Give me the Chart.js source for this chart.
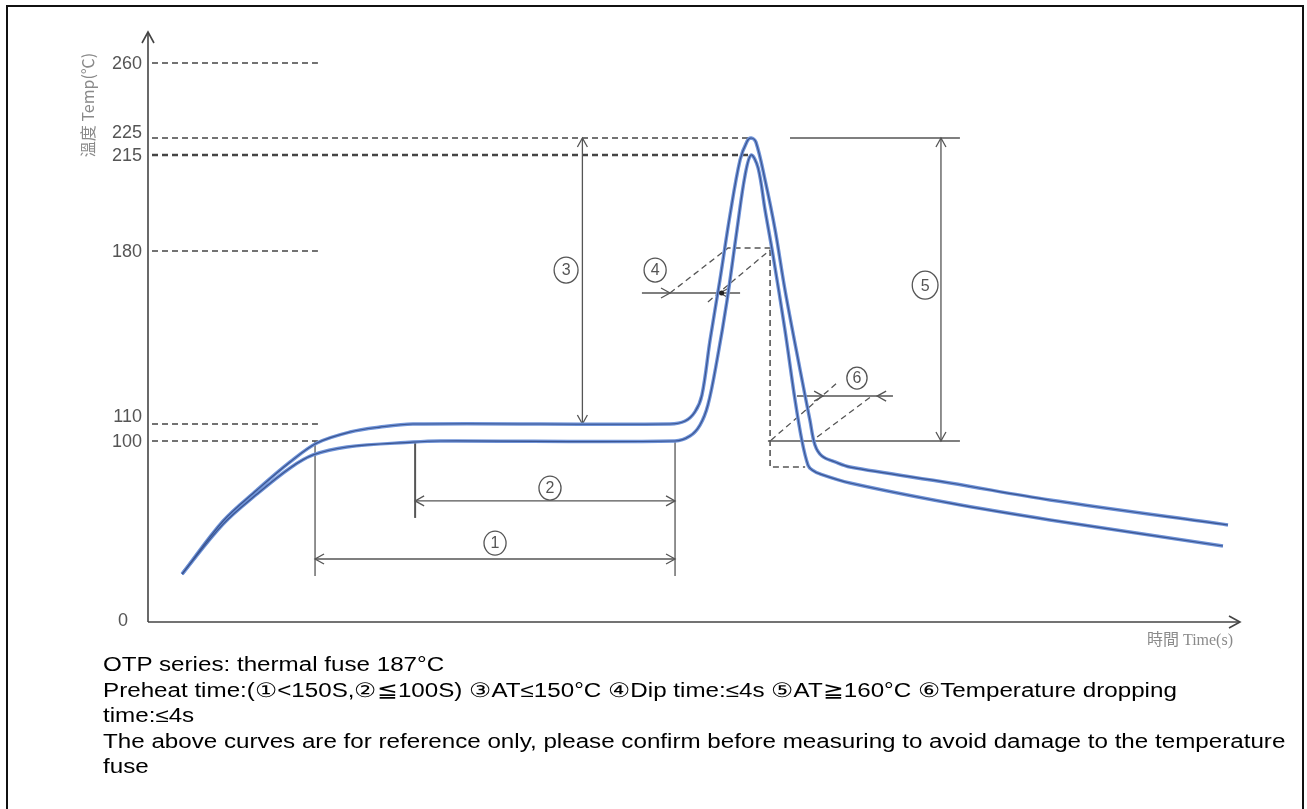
<!DOCTYPE html>
<html>
<head>
<meta charset="utf-8">
<script src="https://cdn.jsdelivr.net/npm/chart.js@4.4.0/dist/chart.umd.min.js"></script>
<style>
html, body { margin: 0; padding: 0; background: #fff; }
#wrap { position: relative; width: 1307px; height: 809px; overflow: hidden; }
#frame { position: absolute; left: 6px; top: 5px; width: 1298px; height: 830px; border: 2px solid #111; box-sizing: border-box; }
#chart { position: absolute; left: 0; top: 0; }
#notes { position: absolute; left: 103px; top: 652px; font-family: "Liberation Sans", Arial, sans-serif;
         font-size: 19.5px; line-height: 25.5px; color: #000; white-space: nowrap;
         transform: scaleX(1.24); transform-origin: 0 0; }
</style>
</head>
<body>
<div id="wrap">
  <canvas id="chart" width="1307" height="809"></canvas>
  <div id="frame"></div>
  <div id="notes">
    OTP series: thermal fuse 187°C<br>
    Preheat time:(①&lt;150S,②≦100S) ③AT≤150°C ④Dip time:≤4s ⑤AT≧160°C ⑥Temperature dropping<br>
    time:≤4s<br>
    The above curves are for reference only, please confirm before measuring to avoid damage to the temperature<br>
    fuse
  </div>
</div>
<script>
// temperature ticks on the y axis; the figure is a sketch, the ticks are not evenly spaced
const tempTicks = [0, 100, 110, 180, 215, 225, 260];
const tickLevel = [0, 181, 198, 371, 467, 484, 559];
// how far each dashed guide runs to the right (time units)
const guideEnd = [null, 70.8, 70.8, 70.8, 250, 251.7, 70.8];

// upper profile: 110°C soak, 225°C peak
const timeA = [14.2, 31.3, 45.4, 59.2, 70.4, 84.2, 96.7, 110.4, 217.5, 223.8, 227.9, 230.8, 234.2, 238.3,
               242.5, 246.7, 249.6, 251.3, 253.3, 257.1, 261.3, 265.4, 271.7, 275.8, 277.9, 280.8, 286.3, 292.5,
               334.2, 375.8, 450];
const tempA = [26.5, 55.8, 72.9, 88.4, 98.9, 105.3, 108.2, 110, 110, 111.2, 114.9, 121.7, 144, 168.3,
               193.1, 213.2, 223, 225, 222.6, 205.9, 187.7, 164.3, 131.9, 111.6, 97.8, 91.7, 88.4, 85.6,
               76.8, 67.4, 53.6];
// lower profile: 100°C soak, 215°C peak
const timeB = [14.2, 31.3, 45.4, 59.2, 68.8, 82.9, 110.4, 121.7, 219.6, 225.8, 230, 233.3, 237.1, 241.3,
               245.4, 248.8, 251.3, 254.2, 257.1, 260.4, 265.4, 269.6, 272.5, 275, 276.7, 280, 292.5, 334.2,
               375.8, 447.9];
const tempB = [26.5, 54.1, 70.7, 85.1, 92.3, 96.7, 99.4, 100, 100, 102.9, 109.4, 117.7, 135.9, 160.2,
               187.7, 207.7, 215, 210.3, 195, 178.4, 148, 119.7, 100, 86.7, 84, 81.8, 76.8, 65.7,
               56.4, 42];

// temperature -> position on the sketch axis (piecewise between ticks)
function lv(T) {
    for (let i = 1; i < tempTicks.length; i++) {
        if (T <= tempTicks[i] || i === tempTicks.length - 1) {
            const f = (T - tempTicks[i - 1]) / (tempTicks[i] - tempTicks[i - 1]);
            return tickLevel[i - 1] + f * (tickLevel[i] - tickLevel[i - 1]);
        }
    }
}

const ptsA = timeA.map((t, i) => ({x: t, y: lv(tempA[i])}));
const ptsB = timeB.map((t, i) => ({x: t, y: lv(tempB[i])}));

function line(ctx, pts, dash, w) {
    ctx.save();
    ctx.setLineDash(dash || []);
    ctx.lineWidth = w || 1.3;
    ctx.beginPath();
    pts.forEach((p, i) => i ? ctx.lineTo(p[0], p[1]) : ctx.moveTo(p[0], p[1]));
    ctx.stroke();
    ctx.restore();
}

// open chevron arrowhead, dir = angle the arrow points to
function head(ctx, px, py, dir, len, wid) {
    len = len || 9; wid = wid || 5;
    const c = Math.cos(dir), s = Math.sin(dir);
    ctx.beginPath();
    ctx.moveTo(px - len * c - wid * s, py - len * s + wid * c);
    ctx.lineTo(px, py);
    ctx.lineTo(px - len * c + wid * s, py - len * s - wid * c);
    ctx.stroke();
}

function circled(ctx, px, py, txt, r) {
    r = r || 12;
    ctx.save();
    ctx.lineWidth = 1.3;
    ctx.beginPath();
    ctx.ellipse(px, py, r * 0.92, r, 0, 0, Math.PI * 2);
    ctx.stroke();
    ctx.fillStyle = '#555';
    ctx.font = '16px "Liberation Sans", Arial, sans-serif';
    ctx.textAlign = 'center';
    ctx.textBaseline = 'middle';
    ctx.fillText(txt, px, py + 1);
    ctx.restore();
}

const sketch = {
    id: 'sketch',
    beforeDatasetsDraw(chart) {
        const {ctx, scales: {x, y}} = chart;
        const X = t => x.getPixelForValue(t);
        const Y = T => y.getPixelForValue(lv(T));
        const x0 = X(0), y0 = Y(0);
        ctx.save();
        ctx.strokeStyle = '#444';
        ctx.lineWidth = 1.6;

        // axes with arrows
        line(ctx, [[x0, y0], [x0, y.top - 3]], null, 1.6);
        head(ctx, x0, y.top - 3, -Math.PI / 2, 11, 6);
        line(ctx, [[x0, y0], [x.right, y0]], null, 1.6);
        head(ctx, x.right, y0, 0, 11, 6);

        // tick labels + dashed guides
        ctx.font = '18px "Liberation Sans", Arial, sans-serif';
        ctx.fillStyle = '#555';
        ctx.textAlign = 'right';
        ctx.textBaseline = 'middle';
        const nudge = {110: -8, 225: -6};
        tempTicks.forEach((T, i) => {
            const py = Y(T);
            ctx.fillText(String(T), x0 - (T === 0 ? 20 : 6), py + (nudge[T] || 0) + (T === 0 ? -1 : 1));
            if (guideEnd[i] != null) {
                line(ctx, [[x0 + 4, py], [X(guideEnd[i]), py]], [6, 4], T === 215 ? 2.4 : 1.6);
            }
        });

        // axis titles
        ctx.save();
        ctx.translate(88, 105);
        ctx.rotate(-Math.PI / 2);
        ctx.fillStyle = '#8a8a8a';
        ctx.textAlign = 'center';
        ctx.font = '16px "Noto Sans CJK TC", "Liberation Sans", sans-serif';
        ctx.fillText('溫度 Temp(℃)', 0, 0);
        ctx.restore();
        ctx.fillStyle = '#8a8a8a';
        ctx.textAlign = 'right';
        ctx.font = '16px "Liberation Serif", "Noto Sans CJK TC", serif';
        ctx.fillText('時間 Time(s)', 1233, 641);

        ctx.lineWidth = 1.3;
        ctx.strokeStyle = '#555';
        // (1) preheat span
        line(ctx, [[X(69.6), Y(100)], [X(69.6), Y(25.4)]]);
        line(ctx, [[X(219.6), Y(100)], [X(219.6), Y(25.4)]]);
        line(ctx, [[X(69.6), Y(34.8)], [X(219.6), Y(34.8)]]);
        head(ctx, X(69.6), Y(34.8), Math.PI);
        head(ctx, X(219.6), Y(34.8), 0);
        circled(ctx, X(144.6), Y(43.6), '1');
        // (2) soak span
        line(ctx, [[X(111.3), Y(100)], [X(111.3), Y(57.5)]], null, 2);
        line(ctx, [[X(111.3), Y(66.9)], [X(219.6), Y(66.9)]]);
        head(ctx, X(111.3), Y(66.9), Math.PI);
        head(ctx, X(219.6), Y(66.9), 0);
        circled(ctx, X(167.5), Y(74), '2');
        // (3) rise from soak to peak
        line(ctx, [[X(181), Y(225)], [X(181), Y(110)]]);
        head(ctx, X(181), Y(225), -Math.PI / 2);
        head(ctx, X(181), Y(110), Math.PI / 2);
        circled(ctx, X(174.2), Y(172.3), '3', 13);
        // (5) peak to 100
        line(ctx, [[X(267.5), Y(225)], [X(338.3), Y(225)]]);
        line(ctx, [[X(258.3), Y(100)], [X(338.3), Y(100)]]);
        line(ctx, [[X(330.4), Y(225)], [X(330.4), Y(100)]]);
        head(ctx, X(330.4), Y(225), -Math.PI / 2);
        head(ctx, X(330.4), Y(100), Math.PI / 2);
        circled(ctx, X(323.8), Y(166.2), '5', 14);

        // (4) dip window, dashed construction
        ctx.strokeStyle = '#555';
        line(ctx, [[X(217.5), Y(163)], [X(241.7), Y(181.1)], [X(259.2), Y(181.1)]], [6, 4]);
        line(ctx, [[X(233.3), Y(159.4)], [X(259.2), Y(180.4)]], [6, 4]);
        line(ctx, [[X(259.2), Y(180.4)], [X(259.2), Y(85.6)], [X(273.8), Y(85.6)]], [6, 4], 1.6);
        line(ctx, [[X(205.8), Y(163)], [X(246.7), Y(163)]]);
        head(ctx, X(217.5), Y(163), 0);
        head(ctx, X(238.3), Y(163), Math.PI);
        circled(ctx, X(211.3), Y(172.3), '4');
        // (6) drop window
        line(ctx, [[X(259.6), Y(100.5)], [X(287.1), Y(126.6)]], [6, 4]);
        line(ctx, [[X(278.8), Y(102.3)], [X(302.1), Y(121.7)]], [6, 4]);
        line(ctx, [[X(270.4), Y(121.3)], [X(310.4), Y(121.3)]], null, 1.6);
        head(ctx, X(281.3), Y(121.3), 0);
        head(ctx, X(303.8), Y(121.3), Math.PI);
        circled(ctx, X(295.4), Y(128.6), '6', 11);
        ctx.restore();
    },
    afterDatasetsDraw(chart) {
        const {ctx, scales: {x, y}} = chart;
        ctx.save();
        ctx.fillStyle = '#222';
        ctx.beginPath();
        ctx.arc(x.getPixelForValue(239), y.getPixelForValue(lv(163)), 2.5, 0, Math.PI * 2);
        ctx.fill();
        ctx.restore();
    }
};

// light body first, thin dark core on top (lower order = drawn later)
const curve = (pts, color, w, order) => ({
    data: pts, borderColor: color, borderWidth: w, order: order,
    tension: 0.35, pointRadius: 0, fill: false
});

new Chart(document.getElementById('chart').getContext('2d'), {
    type: 'line',
    data: {
        datasets: [
            curve(ptsA, '#6f93d8', 3.5, 2),
            curve(ptsB, '#6f93d8', 3.5, 2),
            curve(ptsA, '#3b5591', 1.2, 1),
            curve(ptsB, '#3b5591', 1.2, 1)
        ]
    },
    options: {
        responsive: false,
        animation: false,
        layout: { padding: { left: 148, right: 67, top: 35, bottom: 187 } },
        plugins: { legend: { display: false }, tooltip: { enabled: false } },
        scales: {
            x: { type: 'linear', min: 0, max: 455, display: false },
            y: { min: 0, max: 587, display: false }
        }
    },
    plugins: [sketch]
});
</script>
</body>
</html>
